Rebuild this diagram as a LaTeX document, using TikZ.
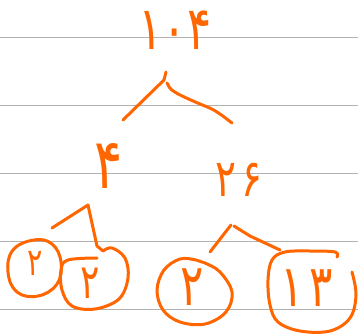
\documentclass[tikz,border=0pt]{standalone}
\usepackage{fontspec}
\newfontfamily\persian[Script=Arabic, FakeStretch=0.75]{DejaVu Sans}
\definecolor{ink}{RGB}{255,102,0}
\definecolor{rulegray}{RGB}{178,178,178}
\tikzset{
  ruling/.style={draw=rulegray, line width=1pt},
  pen/.style={draw=ink, line width=3pt, line cap=round, line join=round},
  digits/.style={text=ink, inner sep=0pt, font=\persian\fontsize{#1}{#1}\selectfont},
}
\begin{document}
\begin{tikzpicture}[x=1pt, y=-1pt]
  % page and ruled lines
  \fill[white] (0,0) rectangle (358,334);
  \useasboundingbox (0,0) rectangle (358,334);
  \foreach \yy in {37.5,105,173,241,309}
    \draw[ruling] (0,\yy) -- (358,\yy);

  % numbers of the factor tree
  \node[digits=60] (n104) at (175,30) {۱۰۴};
  \node[digits=70] (n4)   at (109,166) {۴};
  \node[digits=52] (n26)  at (239,180) {۲\kern6pt۶};
  \node[digits=38] (p1)   at (35,263) {۲};
  \node[digits=48] (p2)   at (90,283) {۲};
  \node[digits=58] (p3)   at (192,287) {۲};
  \node[digits=58] (p4)   at (307,288) {۱\kern6pt۳};

  % branch points
  \coordinate (f0)  at (164,80);
  \coordinate (f0l) at (123,120);
  \coordinate (f0r) at (232,123);
  \coordinate (f1)  at (88,205);
  \coordinate (f1l) at (52,228);
  \coordinate (f1r) at (103,251);
  \coordinate (f2)  at (231,225);
  \coordinate (f2l) at (210,252);
  \coordinate (f2r) at (280,250);

  % branches
  \draw[pen] (166,72) -- (f0) -- (f0l);
  \draw[pen] (f0) ++(3,3) .. controls (170,90) and (172,92) .. (200,104)
             .. controls (215,110) .. (f0r);
  \draw[pen] (f1l) -- (f1) -- (97,246) -- (f1r);
  \draw[pen] (f2) -- (f2l);
  \draw[pen] (f2) ++(3,1) -- (250,236) -- (f2r);

  % rings round the prime factors
  \draw[pen] plot[smooth cycle, tension=0.7] coordinates
    {(34,240) (52,244) (61,262) (57,284) (38,296) (17,292) (8,272) (13,250)};
  \draw[pen] plot[smooth, tension=0.6] coordinates
    {(f1r) (112,248) (125,258) (128,278) (119,299) (95,309) (72,306) (62,290) (61,270) (68,260) (97,258)};
  \draw[pen] plot[smooth cycle, tension=0.6] coordinates
    {(205,263) (220,272) (232,292) (226,312) (205,324) (180,322) (163,310) (157,290) (164,270) (180,259) (196,260)};
  \draw[pen] plot[smooth, tension=0.6] coordinates
    {(352,272) (356,295) (350,318) (330,331) (300,331) (278,322) (270,305) (268,280) (272,260) (285,252) (310,251) (335,252) (337,257)};
\end{tikzpicture}
\end{document}
